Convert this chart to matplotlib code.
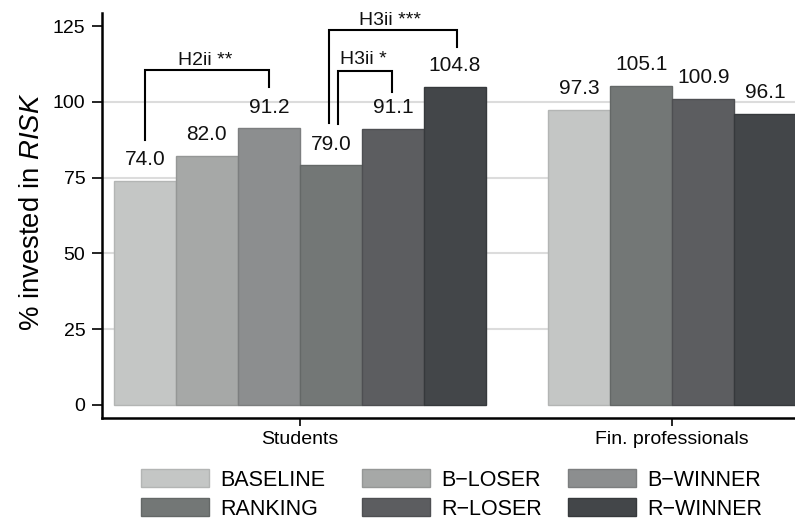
import matplotlib
matplotlib.use("Agg")
import matplotlib.pyplot as plt
from matplotlib.patches import Patch

plt.rcParams['font.family'] = ['Liberation Sans', 'DejaVu Sans']
plt.rcParams['mathtext.fontset'] = 'custom'
plt.rcParams['mathtext.rm'] = 'Liberation Sans'
plt.rcParams['mathtext.it'] = 'Liberation Sans:italic'

# ---- data ----
groups = ["Students", "Fin. professionals"]
treatments = ["BASELINE", "B\u2212LOSER", "B\u2212WINNER", "RANKING", "R\u2212LOSER", "R\u2212WINNER"]
colors = ["#c4c6c5", "#a6a8a7", "#8c8e8f", "#737776", "#5c5d60", "#434649"]
edges = ["#b3b5b4", "#959796", "#7c7e7f", "#646867", "#4e4f52", "#36393c"]
students_values = [74.0, 82.0, 91.2, 79.0, 91.1, 104.8]
fin_treatments = ["BASELINE", "RANKING", "R\u2212LOSER", "R\u2212WINNER"]
fin_values = [97.3, 105.1, 100.9, 96.1]
yticks = [0, 25, 50, 75, 100, 125]

fig = plt.figure(figsize=(7.95, 5.2), dpi=100)
ax = fig.add_axes([102/795, (520-418)/520, (795-102)/795, (418-13)/520])

color_of = dict(zip(treatments, colors))
edge_of = dict(zip(treatments, edges))

VAL_FS = 15
# students bars at 0..5
for i, (t, v) in enumerate(zip(treatments, students_values)):
    ax.bar(i, v, width=1.0, color=color_of[t], edgecolor=edge_of[t], linewidth=1.0, zorder=2)
    ax.annotate(f"{v:.1f}", (i, v), xytext=(0, 11.5), textcoords="offset points",
                ha="center", va="baseline", fontsize=VAL_FS, color="#111111")
# fin professionals bars at 7..10
for j, (t, v) in enumerate(zip(fin_treatments, fin_values)):
    x = 7 + j
    ax.bar(x, v, width=1.0, color=color_of[t], edgecolor=edge_of[t], linewidth=1.0, zorder=2)
    ax.annotate(f"{v:.1f}", (x, v), xytext=(0, 11.5), textcoords="offset points",
                ha="center", va="baseline", fontsize=VAL_FS, color="#111111")

# significance brackets
def bracket(x0, x1, ytop, yl, yr, label, lx, ly):
    ax.plot([x0, x0, x1, x1], [yl, ytop, ytop, yr], color="black", lw=1.5, zorder=3,
            solid_joinstyle="miter", clip_on=False)
    ax.text(lx, ly, label, ha="center", va="baseline", fontsize=14, color="#111111")

bracket(0.0, 2.0, 110.5, 87.4, 104.9, "H2ii **", 0.97, 112.3)
bracket(2.97, 5.03, 123.7, 93.0, 118.1, "H3ii ***", 3.95, 125.5)
bracket(3.11, 3.98, 110.2, 92.7, 103.2, "H3ii *", 3.52, 112.5)

ax.set_xlim(-0.69, 10.48)
ax.set_ylim(-4.3, 129.3)
ax.set_yticks(yticks)
ax.set_yticklabels([str(t) for t in yticks])
for y in yticks[1:-1]:
    ax.axhline(y, color="#dcdcdc", lw=1.5, zorder=1)
ax.set_xticks([2.5, 8.5])
ax.set_xticklabels(groups, fontsize=14)
ax.tick_params(axis="y", length=7, width=1.2, pad=5, labelsize=14)
ax.tick_params(axis="x", length=6, width=1.2, pad=3)
for s in ["top", "right"]:
    ax.spines[s].set_visible(False)
for s in ["left", "bottom"]:
    ax.spines[s].set_linewidth(1.8)
ax.set_ylabel(r"% invested in $\mathit{RISK}$", fontsize=19.8, labelpad=7)
ax.yaxis.set_label_coords(-0.082, 0.51)

# legend: three columns of two rows
columns = [["BASELINE", "RANKING"], ["B\u2212LOSER", "R\u2212LOSER"], ["B\u2212WINNER", "R\u2212WINNER"]]
col_x = [141/795, 362/795, 568/795]
for cx, col in zip(col_x, columns):
    hs = [Patch(facecolor=color_of[t], edgecolor=edge_of[t], linewidth=1.0) for t in col]
    fig.legend(hs, col, loc="center left", bbox_to_anchor=(cx, (520-494.5)/520),
               frameon=False, fontsize=15.5, handlelength=3.16, handleheight=0.9,
               handletextpad=0.5, labelspacing=0.36, borderpad=0, borderaxespad=0)

fig.savefig("out.png", dpi=100)
